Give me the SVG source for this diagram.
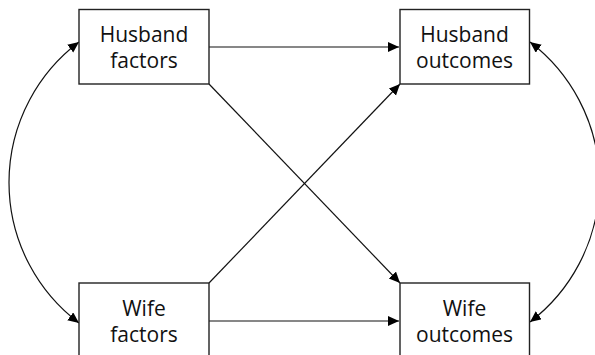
<svg xmlns="http://www.w3.org/2000/svg" width="595" height="355" viewBox="0 0 595 355">
  <style>
    .box { fill: #ffffff; stroke: #222222; stroke-width: 1.4; }
    .label { font-family: "Open Sans", "Liberation Sans", sans-serif; font-size: 21px; fill: #111111; text-anchor: middle; }
    .link { fill: none; stroke: #111111; stroke-width: 1.2; }
  </style>
  <defs>
    <marker id="head" markerUnits="userSpaceOnUse" markerWidth="12" markerHeight="11" refX="11" refY="5" orient="auto-start-reverse">
      <path d="M0,0 L11,5 L0,10 Z" fill="#000000"/>
    </marker>
  </defs>

  <rect width="595" height="355" fill="#ffffff"/>

  <!-- connectors -->
  <g id="connectors">
    <line class="link" x1="209" y1="47" x2="399" y2="47" marker-end="url(#head)"/>
    <line class="link" x1="209" y1="321" x2="399" y2="321" marker-end="url(#head)"/>
    <line class="link" x1="209" y1="84" x2="400" y2="283" marker-end="url(#head)"/>
    <line class="link" x1="209" y1="283" x2="400" y2="84" marker-end="url(#head)"/>
    <!-- curved two-headed links on each side -->
    <path class="link" d="M79,42 A176 176 0 0 0 79,323" marker-start="url(#head)" marker-end="url(#head)"/>
    <path class="link" d="M530,42 A176 176 0 0 1 530,322" marker-start="url(#head)" marker-end="url(#head)"/>
  </g>

  <g id="husband-factors">
    <rect class="box" x="79" y="9.5" width="130" height="74.5"/>
    <text class="label" x="144" y="42">Husband</text>
    <text class="label" x="144" y="68">factors</text>
  </g>

  <g id="husband-outcomes">
    <rect class="box" x="400" y="9.5" width="129.5" height="74.5"/>
    <text class="label" x="464.5" y="42">Husband</text>
    <text class="label" x="464.5" y="68">outcomes</text>
  </g>

  <g id="wife-factors">
    <rect class="box" x="79" y="283" width="130" height="76"/>
    <text class="label" x="144" y="315.5">Wife</text>
    <text class="label" x="144" y="341.5">factors</text>
  </g>

  <g id="wife-outcomes">
    <rect class="box" x="400" y="283" width="129.5" height="76"/>
    <text class="label" x="464.5" y="315.5">Wife</text>
    <text class="label" x="464.5" y="341.5">outcomes</text>
  </g>
</svg>
